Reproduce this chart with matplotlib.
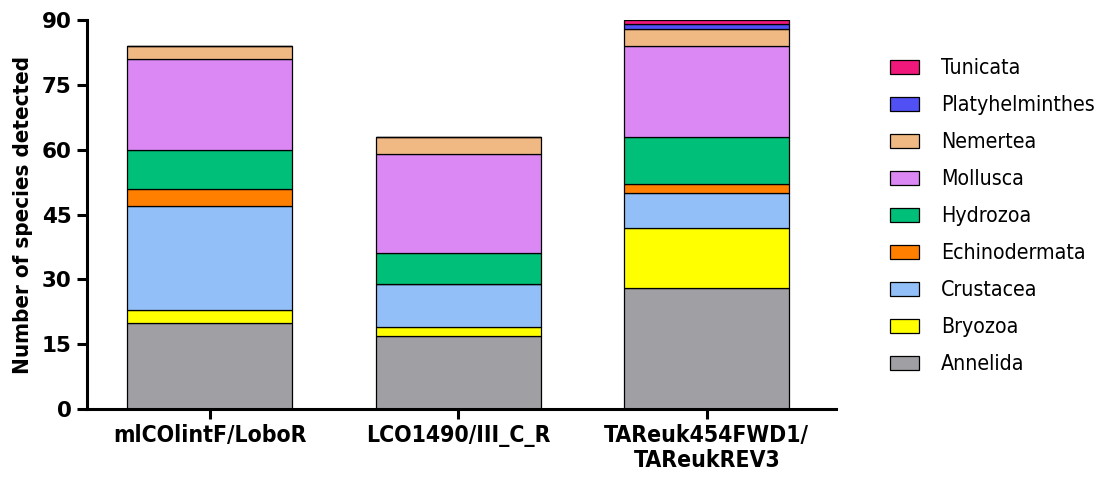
import numpy as np
import matplotlib
matplotlib.use("Agg")
import matplotlib.pyplot as plt
from matplotlib.patches import Patch
from matplotlib import font_manager

# Species detected per primer pair, split by taxonomic group
primers = ["mlCOlintF/LoboR", "LCO1490/III_C_R", "TAReuk454FWD1/\nTAReukREV3"]
groups = ["Annelida", "Bryozoa", "Crustacea", "Echinodermata", "Hydrozoa",
          "Mollusca", "Nemertea", "Platyhelminthes", "Tunicata"]
annelida = [20, 17, 28]
bryozoa = [3, 2, 14]
crustacea = [24, 10, 8]
echinodermata = [4, 0, 2]
hydrozoa = [9, 7, 11]
mollusca = [21, 23, 21]
nemertea = [3, 4, 4]
platyhelminthes = [0, 0, 1]
tunicata = [0, 0, 1]
colors = ["#A09FA4", "#FFFF00", "#92BFF8", "#FF7F00", "#00BF78",
          "#DB88F5", "#F0B882", "#5050F5", "#F0187A"]

counts = [annelida, bryozoa, crustacea, echinodermata, hydrozoa,
          mollusca, nemertea, platyhelminthes, tunicata]

installed = {f.name for f in font_manager.fontManager.ttflist}
narrow = "Liberation Sans Narrow" if "Liberation Sans Narrow" in installed else "DejaVu Sans"
plt.rcParams["font.family"] = [narrow, "DejaVu Sans"]
plt.rcParams["font.stretch"] = "condensed"

fig = plt.figure(figsize=(11, 4.79), dpi=100)
ax = fig.add_axes([0.079, 0.146, 0.681, 0.812])

x = np.arange(len(primers))
bottom = np.zeros(len(primers))
for name, vals, col in zip(groups, counts, colors):
    vals = np.array(vals, dtype=float)
    ax.bar(x, vals, 0.664, bottom=bottom, color=col, edgecolor="black",
           linewidth=0.9, label=name)
    bottom += vals

ax.set_xlim(-0.495, 2.52)
ax.set_ylim(0, 90)
ax.set_yticks(np.arange(0, 91, 15))
ax.set_xticks(x)
ax.set_xticklabels(primers, fontsize=16.5, fontweight="bold", linespacing=1.1)
for lab in ax.get_yticklabels():
    lab.set_fontsize(15.5)
    lab.set_fontweight("bold")
    lab.set_fontstretch("normal")
ax.set_ylabel("Number of species detected", fontsize=16, fontweight="bold",
              labelpad=6)

for side in ["top", "right"]:
    ax.spines[side].set_visible(False)
for side in ["left", "bottom"]:
    ax.spines[side].set_linewidth(2.2)
ax.tick_params(axis="both", width=2.2, length=7, direction="out", pad=4)

handles = [Patch(facecolor=c, edgecolor="black", linewidth=0.9, label=g)
           for g, c in zip(groups, colors)][::-1]
fig.legend(handles=handles, loc="upper left", bbox_to_anchor=(0.792, 0.918),
           frameon=False, fontsize=15.3, handlelength=1.35, handleheight=0.7,
           handletextpad=1.05, labelspacing=0.80)

fig.savefig("out.png", dpi=100)
